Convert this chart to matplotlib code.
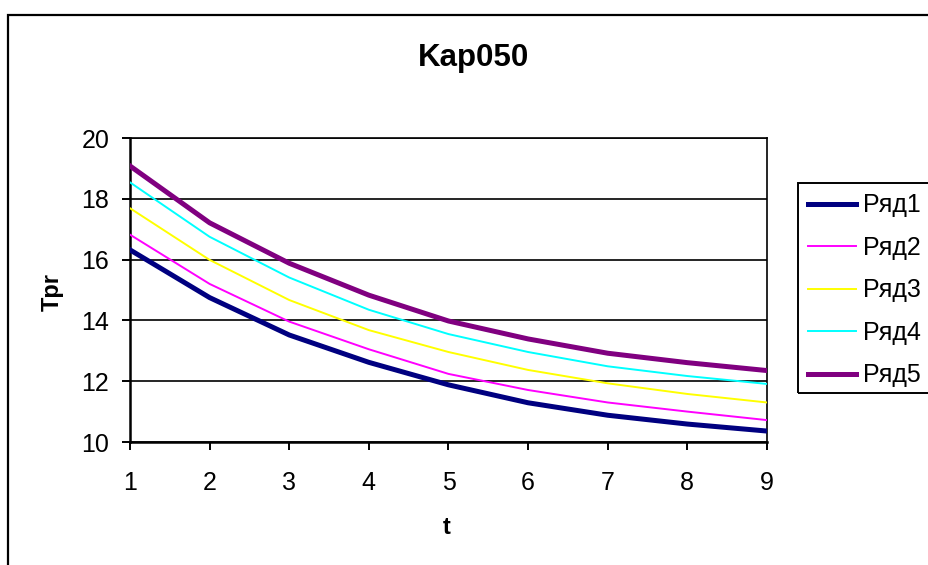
import matplotlib
matplotlib.use("Agg")
import matplotlib.pyplot as plt
from matplotlib.patches import Rectangle

plt.rcParams['font.family'] = ['Liberation Sans', 'DejaVu Sans']

t = [1, 2, 3, 4, 5, 6, 7, 8, 9]
ryad1 = [16.32, 14.75, 13.52, 12.62, 11.88, 11.29, 10.88, 10.59, 10.36]
ryad2 = [16.82, 15.20, 13.96, 13.05, 12.24, 11.71, 11.30, 11.00, 10.72]
ryad3 = [17.69, 15.99, 14.67, 13.68, 12.96, 12.37, 11.93, 11.58, 11.30]
ryad4 = [18.54, 16.75, 15.41, 14.35, 13.55, 12.96, 12.49, 12.17, 11.91]
ryad5 = [19.08, 17.21, 15.88, 14.83, 13.98, 13.39, 12.92, 12.61, 12.35]
labels = ['Ряд1', 'Ряд2', 'Ряд3', 'Ряд4', 'Ряд5']
title = 'Kap050'
xlabel = 't'
ylabel = 'Tpr'

W, H = 929, 565
fig = plt.figure(figsize=(W / 100, H / 100), dpi=100)

def fx(px):
    return px / W

def fy(py):
    return 1 - py / H

# outer chart border (extends beyond right/bottom edges)
fig.patches.append(Rectangle((fx(8), fy(600)), fx(1000) - fx(8), fy(15) - fy(600),
                             transform=fig.transFigure, fill=False, edgecolor='black',
                             linewidth=1.6, zorder=0))

ax = fig.add_axes([fx(130), fy(442), fx(767) - fx(130), fy(138) - fy(442)])

series = [ryad1, ryad2, ryad3, ryad4, ryad5]
colors = ['#000080', '#FF00FF', '#FFFF00', '#00FFFF', '#800080']
widths = [3.6, 1.4, 1.4, 1.4, 3.6]
for s, c, w, l in zip(series, colors, widths, labels):
    ax.plot(t, s, color=c, linewidth=w, label=l, solid_joinstyle='miter', zorder=3)

ax.set_xlim(1, 9)
ax.set_ylim(10, 20)
ax.set_xticks(t)
ax.set_yticks([10, 12, 14, 16, 18, 20])
ax.yaxis.grid(True, color='black', linewidth=1.2)
ax.set_axisbelow(True)
for sp in ax.spines.values():
    sp.set_color('black')
    sp.set_linewidth(1.2)
ax.spines['left'].set_linewidth(1.8)
ax.spines['bottom'].set_linewidth(1.8)
ax.tick_params(axis='both', direction='out', length=6, width=1.4, labelsize=18, colors='black')
ax.tick_params(axis='x', pad=15)
ax.tick_params(axis='y', pad=9)

fig.text(fx(473), fy(58), title, fontsize=22.5, fontweight='bold', ha='center', va='center')
fig.text(fx(447), fy(527), xlabel, fontsize=17, fontweight='bold', ha='center', va='center')
fig.text(fx(52), fy(292), ylabel, fontsize=17, fontweight='bold', ha='center', va='center', rotation=90)

# legend frame
fig.patches.append(Rectangle((fx(798), fy(393)), fx(1000) - fx(798), fy(183) - fy(393),
                             transform=fig.transFigure, fill=False, edgecolor='black',
                             linewidth=1.4, zorder=0))
leg = fig.legend(loc='upper left', bbox_to_anchor=(fx(798), fy(183)), frameon=False,
                 fontsize=18, handlelength=1.9, handletextpad=0.28, labelspacing=0.74,
                 borderaxespad=0, borderpad=0.42)

fig.savefig('out.png', dpi=100, facecolor='white')
